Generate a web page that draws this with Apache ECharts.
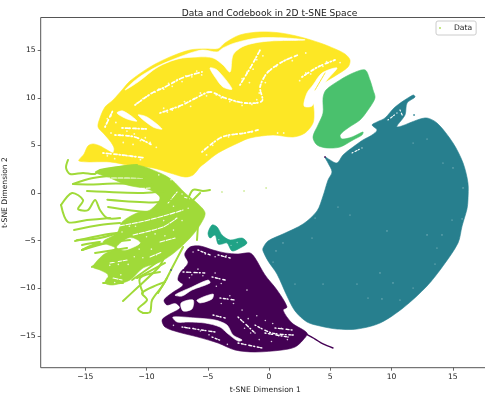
<!DOCTYPE html>
<html><head><meta charset="utf-8">
<style>html,body{margin:0;padding:0;background:#fff}#c{width:485px;height:396px}</style>
<script src="https://cdn.jsdelivr.net/npm/echarts@6/dist/echarts.min.js"></script></head>
<body><div id="c"></div>
<script>
const xTicks=[-15,-10,-5,0,5,10,15];
const yTicks=[-15,-10,-5,0,5,10,15];
const strayPoints=[[-3.84,0.1],[-2.04,0.21],[-0.24,0.53]];
const bluePoints=[[-8,-8.09]];
const purplePoints=[[4.57,3.78]];
const tealIsland=[[11.84,8.19]];

const yellowBody=[[-15.51,3.36],[-15.1,4.1],[-14.78,4.94],[-14.37,5.15],[-13.8,4.94],[-13.22,4.52],[-12.73,4.2],[-12.65,4.73],[-12.98,5.46],[-13.47,6.2],[-13.96,6.93],[-13.8,7.88],[-13.39,9.03],[-12.73,9.77],[-12,10.82],[-11.35,11.76],[-9.71,13.24],[-8.08,14.29],[-6.45,15.02],[-5.22,15.13],[-4.16,15.13],[-3.59,15.76],[-2.37,16.6],[-0.73,16.91],[0.9,16.81],[2.53,16.39],[4.16,15.76],[5.39,15.13],[6.2,14.6],[6.61,13.97],[6.45,13.24],[5.39,12.29],[4.57,11.66],[3.84,11.03],[3.59,9.77],[3.67,8.51],[3.59,7.35],[2.94,6.3],[1.96,5.88],[0.33,6.09],[-1.55,5.78],[-2.53,5.25],[-4.16,4.2],[-5.22,3.15],[-5.63,2.73],[-6.2,1.89],[-6.86,1.68],[-8.08,2.1],[-9.47,2.63],[-11.1,2.84],[-12.98,3.26]];
const yellowHoles=[
 [[-11.76,10.82],[-10.69,12.08],[-9.06,13.34],[-7.1,14.39],[-5.47,15.02],[-4.24,14.81],[-3.76,15.23],[-2.78,15.76],[-0.9,16.28],[1.31,16.28],[2.94,16.07],[0.24,15.97],[-1.14,15.76],[-2.2,15.34],[-2.94,14.5],[-3.18,12.71],[-3.76,13.45],[-4.57,14.18],[-5.8,14.29],[-7.43,14.08],[-9.06,13.24],[-10.69,11.66]],
 [[-4.82,13.13],[-4.24,12.92],[-3.02,10.92],[-3.76,11.13],[-4.41,12.18]],
 [[5.55,13.13],[4.33,12.6],[3.59,11.34],[3.1,10.5],[2.86,9.14],[3.51,9.14],[4,10.5],[4.73,11.87]],
 [[-12.41,8.4],[-11.92,8.61],[-10.78,7.56],[-11.59,7.77]],
 [[-10.69,8.19],[-9.96,7.98],[-8.73,6.72],[-9.47,6.93]]
];
const yellowSpeckle=[
 [[-10.94,9.24],[-9.55,10.5],[-8.49,11.13],[-7.1,12.08],[-5.47,12.71]],
 [[-8.9,8.4],[-7.1,9.24],[-5.8,10.08],[-4.82,10.61],[-3.59,9.98],[-1.96,9.45],[-0.57,9.66],[-0.73,11.13],[-0.16,12.6],[1.06,13.76],[2.37,14.5]],
 [[-2.37,11.34],[-1.39,13.45],[-0.73,15.02]],
 [[2.69,12.18],[4,13.24],[5.39,13.97]],
 [[-12.57,6.09],[-10.94,5.88],[-9.55,5.04]],
 [[-12,6.83],[-9.88,6.72]],
 [[-5.47,4.31],[-3.84,5.88],[-1.96,6.3],[-0.9,6.62]],
 [[-13.39,6.93],[-12.73,8.72]],
 [[-13.55,4.2],[-12,3.99],[-10.12,3.68]]
];
const yellowDots=[[-10.8,9.4],[-10.3,9.9],[-9.9,10.2],[-9.3,10.6],[-9,10.9],[-8.6,10.9],[-8.2,11.5],[-7.9,11.2],[-7.5,11.9],[-7.1,11.7],[-6.8,12.3],[-6.3,12.2],[-5.9,12.8],[-5.5,12.4],[-8.6,8.9],[-8.3,8.5],[-7.9,8.7],[-7.4,9],[-6.9,9.6],[-6.4,9.1],[-6.1,9.9],[-5.6,10.5],[-5.1,10.2],[-4.3,10.3],[-3.9,10],[-3.2,9.6],[-2.7,9.6],[-2.2,9.2],[-1.4,9.3],[-1,9.8],[-0.8,10.5],[-0.3,11.6],[0.1,12.9],[0.6,13.3],[1.4,14],[1.9,13.9],[3,14.7],[-2.2,12],[-1.8,12.7],[-1.3,13],[-1.6,11.6],[-1,14],[-0.5,14.4],[3,12.6],[3.4,12.5],[3.8,13.1],[4.4,13.3],[4.7,13.8],[5.8,13.7],[2.5,11.8],[-12.9,6.3],[-12.2,6.1],[-11.6,6.5],[-11,6.2],[-10.5,5.5],[-10.1,5.8],[-9.7,5.3],[-9.2,4.8],[-11.9,5.3],[-11.1,5.1],[-13.2,7.8],[-12.9,8.1],[-12.5,7.4],[-13.2,3.9],[-12.6,3.6],[-11.5,3.9],[-10.5,3.5],[-5.1,4],[-4.6,5],[-3.3,5.9],[-2.6,6.2],[-1.4,6.4],[0.7,6.3],[1.2,6.3]];
const yellowStripe=[[[4.57,12.6],[3.76,10.82]]];

const greenBody=[[7.84,12.92],[8.24,11.87],[8.49,10.82],[8.65,9.98],[8.08,8.72],[7.43,7.67],[6.45,6.83],[5.8,6.09],[5.96,5.67],[6.78,5.88],[7.67,6.41],[7.59,6.09],[6.86,5.57],[5.8,4.83],[4.73,4.73],[3.92,5.04],[3.59,5.88],[4,7.14],[4.41,8.4],[4.41,9.98],[4.65,10.82],[5.8,11.87],[6.86,12.6]];

const tealBody=[[-0.49,-5.78],[-0.08,-5.04],[1.14,-4.31],[2.78,-3.26],[3.92,-1.89],[4.41,-0.32],[4.82,1.37],[5.14,2.21],[4.82,3.15],[4.57,3.78],[4.98,3.47],[5.55,3.15],[6.04,3.99],[6.86,4.83],[7.67,5.57],[8.41,6.09],[8.82,6.62],[8.41,7.14],[8.82,7.46],[9.47,7.88],[10.29,9.03],[11.76,10.29],[11.92,10.08],[11.27,9.45],[11.1,8.19],[10.45,6.93],[12.73,7.88],[13.71,7.35],[15.02,5.25],[15.84,3.15],[16.24,1.05],[16.24,-0.74],[16.16,-1.68],[15.76,-3.47],[15.43,-5.25],[14.2,-7.67],[12.9,-9.77],[10.94,-12.08],[9.06,-13.66],[7.18,-14.29],[5.55,-14.29],[4.16,-13.97],[3.1,-13.55],[2.12,-12.39],[1.47,-10.82],[0.65,-8.51],[-0.08,-7.14],[-0.49,-6.09]];
const tealGaps=[[[6.78,4.2],[7.59,4.73]],[[9.71,7.67],[10.45,8.4]],[[10.69,8.72],[10.9,8.1]]];
const tealSpecks=[[5.63,-1.47],[3.76,-2.63],[3.51,-4.73],[1.14,-5.25],[0.57,-6.09],[0.33,-7.25],[2.12,-9.56],[4.41,-9.56],[7.18,-9.56],[9.06,-8.4],[10.12,-9.45],[11.76,-9.98],[10.69,-11.24],[8.08,-11.03],[9.22,-11.13],[9.63,-3.99],[12.9,-4.41],[14.12,-4.41],[14.94,-2.84],[13.71,-5.78],[13.55,-7.46],[15.76,-2.73],[6.61,-2.31],[11.76,5.25],[12.9,5.67],[14.2,3.15],[15.02,2.63],[15.84,0.53]];

const butterflyBody=[[-4.98,-4.2],[-4.65,-3.36],[-4.24,-3.57],[-3.84,-4.41],[-3.18,-4.94],[-2.2,-4.73],[-1.8,-5.25],[-2.37,-5.78],[-3.02,-6.09],[-3.43,-5.25],[-3.84,-5.36],[-4.16,-5.36],[-4.41,-4.41],[-4.82,-4.73]];
const butterflyDots=[[-4.1,-4.9],[-3.1,-5.5],[-2.6,-5.2]];

const purpleBody=[[-6.86,-6.3],[-6.45,-5.67],[-5.63,-5.57],[-4.57,-5.99],[-3.59,-6.3],[-2.53,-6.41],[-1.55,-6.3],[-1.14,-6.83],[-0.33,-8.61],[0.65,-10.19],[1.47,-11.97],[1.14,-12.29],[1.88,-13.66],[3.1,-14.71],[2.78,-15.44],[2.12,-16.18],[1.06,-16.49],[-1.14,-16.7],[-2.78,-16.49],[-4.16,-15.76],[-5.8,-15.13],[-7.43,-14.6],[-8.49,-14.08],[-8.73,-13.34],[-8.24,-12.82],[-7.27,-12.08],[-7.67,-11.55],[-8.33,-11.76],[-8.57,-11.24],[-7.92,-10.5],[-7.02,-9.66],[-7.43,-9.14],[-7.27,-8.4],[-6.61,-7.35],[-6.86,-6.62]];
const purpleHoles=[
 [[-7.67,-10.71],[-6.29,-9.87],[-4.98,-9.14],[-4.82,-9.45],[-6.29,-10.19],[-7.1,-10.82]],
 [[-7.18,-11.55],[-6.2,-11.24],[-6.29,-12.18],[-7.02,-12.39]],
 [[-5.88,-11.24],[-4.57,-10.61],[-4.65,-11.13],[-5.63,-11.55]],
 [[-7.84,-13.03],[-6.04,-13.13],[-4.41,-13.34],[-3.43,-13.87],[-2.94,-14.92],[-2.2,-15.44],[-2.53,-15.55],[-3.43,-14.71],[-4,-14.08],[-5.22,-13.66],[-6.61,-13.55],[-7.51,-13.55]]
];
const purpleSpeckle=[
 [[-4.65,-15.13],[-3.84,-15.55]],[[-5.8,-5.99],[-4.82,-6.51]],[[-4.16,-6.51],[-3.18,-6.83]],[[-7.02,-8.3],[-5.22,-8.4]],[[-4.65,-8.82],[-3.59,-9.14]],[[-4,-11.03],[-2.78,-11.24]],[[-2.53,-13.03],[-1.14,-14.71]],[[-1.14,-13.87],[0.24,-14.71],[2.12,-14.92]],[[-0.33,-14.71],[1.55,-15.13]],[[0.49,-14.18],[1.88,-14.39]],[[-7.1,-14.08],[-4.41,-14.6]],[[-2.53,-15.76],[-0.57,-16.28]],[[-4.57,-12.82],[-3.59,-13.13]]
];
const purpleDots=[[-6.2,-6.2],[-5.2,-6.4],[-4.4,-6.7],[-3.5,-6.6],[-5.8,-8],[-6.3,-8.6],[-5.4,-8.7],[-4.4,-8.4],[-3.9,-9.5],[-4.3,-9.8],[-3.2,-10.8],[-2.9,-11.6],[-3.9,-11.6],[-1.8,-10.2],[-2.2,-12.3],[-1.7,-13.2],[-1,-12.9],[-0.3,-13.4],[0.3,-13.7],[1,-14.2],[1.5,-15.4],[0.8,-15],[-0.8,-15.4],[-1.5,-14.7],[-2,-14.2],[-6.2,-14.2],[-5.6,-14.5],[-4.9,-14.9],[-6.9,-14.1],[-7.8,-13.9],[-3.4,-15.9],[0.2,-15.6],[-6.5,-8.9],[-7,-7.9]];
const purpleTail=[[[3,-14.75],[3.18,-14.92],[3.76,-15.34],[4.41,-15.86],[5.22,-16.28]]];

const limeBody=[[-14.2,2.21],[-12.41,2.73],[-10.78,2.94],[-8.9,2.1],[-7.92,1.37],[-6.86,0],[-5.88,-1.05],[-5.22,-2.1],[-5.63,-3.36],[-6.45,-4.73],[-7.67,-6.2],[-8.9,-7.25],[-10.29,-7.88],[-11.35,-9.14],[-12.73,-9.66],[-13.39,-9.45],[-13.14,-8.61],[-13.8,-8.09],[-14.37,-7.77],[-13.55,-6.51],[-12.57,-5.78],[-13.55,-5.15],[-12.41,-4.2],[-12,-3.05],[-10.78,-2.1],[-9.71,-1.79],[-8.9,-0.53],[-9.71,0.32],[-11.59,0.84],[-12.98,1.58]];
const limeGaps=[
 [[-13.39,1.58],[-10.29,1.58]],[[-12.16,0.32],[-9.71,0.53]],[[-13.22,-0.42],[-9.47,-0.42]],[[-13.14,-0.95],[-9.96,-1.58]],
 [[-12.73,-3.57],[-10.53,-3.05],[-8.33,-2.31],[-7.02,-1.79]],[[-11.1,-4.41],[-8.65,-3.57],[-7.51,-2.63]],[[-8.9,-5.15],[-7.67,-4.73]],[[-6.89,-0.45],[-6.5,-0.6]],[[-12.98,-7.35],[-11.59,-7.04]],[[-12.73,-8.93],[-12,-9.14]],[[-9.71,-6.72],[-8.73,-6.2]],[[-8.24,-1.05],[-7.51,0.1]]
];
const limeHoles=[[[-12.41,-5.67],[-11.35,-4.73],[-10.53,-5.25],[-11.76,-5.99]]];
const limeDots=[[-13.2,-8.8],[-12.6,-9.4],[-12.1,-8.6],[-13,-7.6],[-12.3,-7.5],[-11.5,-7.5],[-11,-6.7],[-10.3,-6.8],[-9.6,-5.9],[-9.2,-6.5],[-10,-4.6],[-9.3,-4.3],[-8.5,-4.5],[-7.8,-3.9],[-7.1,-2.9],[-6.6,-1.6],[-7.8,-1.4],[-8.6,-2.9],[-12,-4.1],[-11.4,-3.5],[-10.9,-3.5],[-10.6,-5.9],[-7.1,-0.1],[-8,1.4],[-9,1.9]];
const limeStrokes=[
 [[-16.41,3.47],[-16.57,2.63],[-16.24,2],[-15.18,2.1],[-14.2,2],[-13.8,2.42],[-10.78,2.94]],
 [[-16,0.95],[-14.37,1.58],[-12,1.8],[-10,1.6]],
 [[-16,0.95],[-14.5,0.9],[-12.5,1],[-9.5,0.9]],
 [[-14.86,0.21],[-10.29,0],[-8.5,0.2]],
 [[-13.2,-0.7],[-9.5,-1],[-8,-0.8]],
 [[-13.14,-1.47],[-9.96,-2],[-8.8,-1.8]],
 [[-16.98,-1.26],[-16.08,0],[-15.18,-0.74],[-15.59,-1.68],[-14.78,-1.79],[-14.2,-0.74],[-13.8,-1.79],[-13.22,-2.63],[-12.16,-2.63]],
 [[-16.98,-1.26],[-16.41,-3.05],[-14.86,-2.84],[-12.98,-2.63]],
 [[-15.92,-3.89],[-13.8,-3.36],[-12.16,-3.15]],
 [[-15.67,-4.94],[-13.8,-4.73],[-11.59,-3.89]],
 [[-15.84,-5.04],[-13.55,-4.41],[-12.41,-4.2]],
 [[-15.27,-5.99],[-13.8,-5.15],[-15.27,-5.46]],
 [[-15.27,-5.99],[-14.37,-5.46],[-12.41,-5.15]],
 [[-15.27,-5.99],[-13.22,-5.25],[-11.35,-4.94]],
 [[-14.2,-6.3],[-11.59,-5.78]],
 [[-14.45,-7.77],[-13.22,-7.04],[-12.41,-7.25]],
 [[-13.55,-9.45],[-11.92,-9.45]],
 [[-11.18,-9.14],[-8.65,-6.83]],
 [[-10.78,-8.93],[-8.49,-7.35]],
 [[-11.92,-11.34],[-10.78,-9.98],[-9.06,-7.88],[-8.65,-7.04]],
 [[-10.29,-10.5],[-10.53,-8.93],[-8.9,-8.3]],
 [[-10.29,-12.6],[-10.69,-12.18],[-9.96,-11.24],[-10.37,-10.5],[-9.14,-9.66],[-8.49,-9.35]],
 [[-10.29,-12.6],[-9.71,-12.5],[-9.55,-11.24],[-8.65,-9.66],[-7.92,-7.88],[-7.02,-5.67]],
 [[-9.06,-10.5],[-8.33,-8.93]],
 [[-5.88,-4.94],[-5.8,-3.36]],
 [[-6.69,-0.95],[-6.2,0.32],[-5.39,0.21],[-4.82,0.32]],
 [[-6.2,-0.74],[-5.63,0]]
];

const YELLOW='#fde725',LIME='#a0da39',GREEN='#4ac16d',BTEAL='#20a386',TEAL='#277f8e',PURPLE='#440154';
const ROUGH=[1,2.5,2,1.5,1,3,3,2];

function layer(colour,polys,strokes,width,dash){
  const all=polys.concat(strokes||[]);
  return {type:'custom',coordinateSystem:'cartesian2d',silent:true,clip:true,
    encode:{x:0,y:1},
    data:all.map((p,i)=>[p[0][0],p[0][1],i]),
    renderItem:function(params,api){
      const i=api.value(2);
      const pts=all[i].map(q=>api.coord(q));
      if(i<polys.length){
        return {type:'polygon',shape:{points:pts,smooth:0.3},style:{fill:colour,stroke:colour,lineWidth:0.6,lineJoin:'round'}};
      }
      return {type:'polyline',shape:{points:pts,smooth:0.3},style:{fill:null,stroke:colour,lineWidth:width,lineJoin:'round',lineCap:'round',lineDash:dash||null}};
    }};
}
function points(name,colour,data,size){
  return {name:name,type:'scatter',data:data,symbol:'circle',symbolSize:size,itemStyle:{color:colour},silent:true};
}
const axisCommon={
  axisLine:{show:false,onZero:false},splitLine:{show:false},
  nameLocation:'middle',
  nameTextStyle:{fontFamily:'DejaVu Sans',fontSize:7.6,color:'#222'},
};
const tickFmt=v=>String(v).replace('-','\u2212');
const option={
  animation:false,backgroundColor:'#fff',
  title:{text:'Data and Codebook in 2D t-SNE Space',left:264.5,top:4,textAlign:'center',
    textStyle:{fontFamily:'DejaVu Sans',fontSize:9.1,fontWeight:'normal',color:'#222'}},
  legend:{data:['Data'],left:436,top:21,orient:'vertical',padding:[3,4,3,3],itemWidth:18,itemHeight:2,
    borderColor:'#ccc',borderWidth:1,borderRadius:2,backgroundColor:'#fff',
    textStyle:{fontFamily:'DejaVu Sans',fontSize:7.6,color:'#222'}},
  grid:{left:40.7,top:17.5,width:449.3,height:350.2,show:true,borderColor:'#555',borderWidth:1,backgroundColor:'#fff',containLabel:false,outerBoundsMode:'none'},
  xAxis:Object.assign({},axisCommon,{type:'value',min:-18.64,max:18.04,name:'t-SNE Dimension 1',nameGap:14,
    axisTick:{show:true,length:3,lineStyle:{color:'#444',width:0.8},customValues:xTicks},
    axisLabel:{customValues:xTicks,formatter:tickFmt,fontFamily:'DejaVu Sans',fontSize:7.6,color:'#222',margin:5}}),
  yAxis:Object.assign({},axisCommon,{type:'value',min:-18.35,max:18.43,name:'t-SNE Dimension 2',nameGap:23,
    axisTick:{show:true,length:3,lineStyle:{color:'#444',width:0.8},customValues:yTicks},
    axisLabel:{customValues:yTicks,formatter:tickFmt,fontFamily:'DejaVu Sans',fontSize:7.6,color:'#222',margin:5}}),
  series:[
    layer(YELLOW,[yellowBody],[],1),
    layer('#fff',yellowHoles,yellowSpeckle,1.8,ROUGH),
    points('yellowDots','#fff',yellowDots,1.8),
    layer(YELLOW,[],yellowStripe,1),
    layer(GREEN,[greenBody],[],1),
    layer(TEAL,[tealBody],[],1),
    layer('#fff',[],tealGaps,1.2,ROUGH),
    points('tealSpecks','rgba(255,255,255,0.7)',tealSpecks,1.2),
    points('tealIsland',TEAL,tealIsland,2),
    layer(BTEAL,[butterflyBody],[],1),
    points('butterflyDots','rgba(255,255,255,0.7)',butterflyDots,1.3),
    layer(PURPLE,[purpleBody],purpleTail,1.4),
    layer('#fff',purpleHoles,purpleSpeckle,1.4,ROUGH),
    points('purpleDots','#fff',purpleDots,1.6),
    layer(LIME,[limeBody],[],1),
    layer('#fff',limeHoles,limeGaps,1.1,[5,1.5]),
    points('limeDots','#fff',limeDots,1.6),
    layer(LIME,[],limeStrokes,2),
    points('Data',LIME,strayPoints,1.6),
    points('bluePoints','#3b528b',bluePoints,2),
    points('purplePoints',PURPLE,purplePoints,2)
  ]
};
echarts.init(document.getElementById('c'),null,{renderer:'canvas'}).setOption(option);
</script></body></html>
